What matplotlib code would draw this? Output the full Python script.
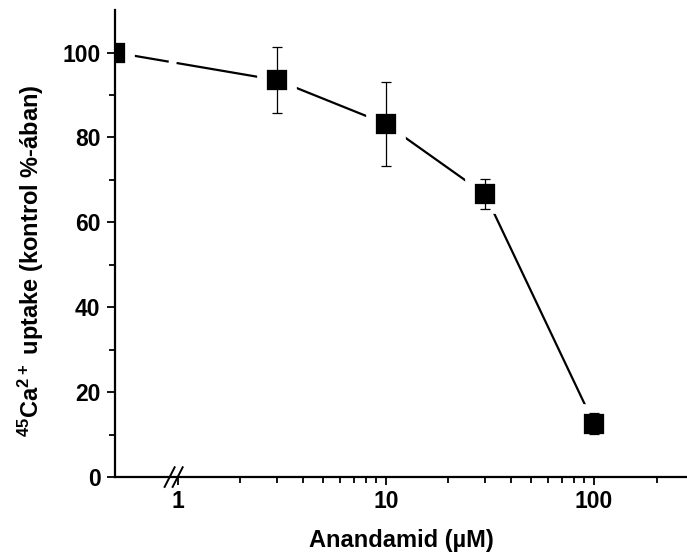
import numpy as np
import matplotlib
matplotlib.use('Agg')
import matplotlib.pyplot as plt
import matplotlib.transforms as mtransforms
from matplotlib.ticker import FixedLocator

plt.rcParams['font.family'] = 'Liberation Sans'
plt.rcParams['font.weight'] = 'bold'
plt.rcParams['axes.labelweight'] = 'bold'
plt.rcParams['mathtext.default'] = 'regular'

# data
control_x = 0.5
control_y = 100.0
conc = [3, 10, 30, 100]
uptake = [93.5, 83.2, 66.6, 12.6]
err = [7.8, 9.9, 3.5, 2.5]

fig = plt.figure(figsize=(6.87, 5.58), dpi=100)
ax = fig.add_axes([0.1674, 0.145, 0.8326, 0.837])

# connecting line, broken where the axis is broken
lx0, lx1 = np.log10(control_x), np.log10(conc[0])
def yat(xv):
    t = (np.log10(xv) - lx0) / (lx1 - lx0)
    return control_y + t * (uptake[0] - control_y)
ax.plot([control_x, 0.895], [control_y, yat(0.895)], color='black', lw=1.6, zorder=1)
ax.plot([1.0, conc[0]], [yat(1.0), uptake[0]], color='black', lw=1.6, zorder=1)
ax.plot(conc, uptake, color='black', lw=1.6, zorder=1)

# markers with white halo so the line stops short of them
allx = [control_x] + conc
ally = [control_y] + uptake
ax.plot(allx, ally, ls='none', marker='s', markersize=21, mfc='black',
        mec='white', mew=7, zorder=2)
ax.errorbar(conc, uptake, yerr=err, fmt='none', ecolor='black',
            elinewidth=0.9, capsize=3.5, capthick=0.9, zorder=3)

ax.set_xscale('log')
ax.set_xlim(0.5, 280)
ax.set_ylim(0, 110)
ax.set_yticks([0, 20, 40, 60, 80, 100])
ax.set_yticks(np.arange(10, 110, 20), minor=True)
ax.xaxis.set_major_locator(FixedLocator([1, 10, 100]))
ax.xaxis.set_minor_locator(FixedLocator([2, 3, 4, 5, 6, 7, 8, 9,
                                         20, 30, 40, 50, 60, 70, 80, 90, 200]))
ax.set_xticklabels(['1', '10', '100'])

for s in ['top', 'right']:
    ax.spines[s].set_visible(False)
for s in ['left', 'bottom']:
    ax.spines[s].set_linewidth(1.6)
ax.tick_params(which='major', direction='out', length=5.5, width=1.3, labelsize=16.5)
ax.tick_params(which='minor', direction='out', length=4, width=1.3)
ax.tick_params(axis='x', pad=3.5)
ax.tick_params(axis='y', pad=5)

# axis break marks
trans = mtransforms.blended_transform_factory(ax.transData, ax.transAxes)
for xb in [0.915, 1.0]:
    ax.plot([xb / 1.057, xb * 1.057], [-0.021, 0.021], color='black', lw=1.4,
            transform=trans, clip_on=False, zorder=5)

ax.set_xlabel('Anandamid (µM)', fontsize=17, labelpad=12)
ax.set_ylabel('$^{45}$Ca$^{2+}$ uptake (kontrol %-ában)', fontsize=17)
ax.yaxis.set_label_coords(-0.121, 0.4625)

fig.savefig('out.png', dpi=100)
